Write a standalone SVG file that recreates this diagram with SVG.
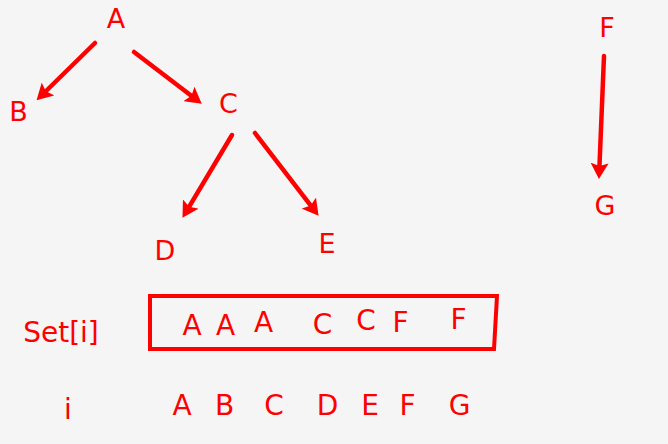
<svg xmlns="http://www.w3.org/2000/svg" width="668" height="444" viewBox="0 0 668 444">
<style>
.t{font-family:"DejaVu Sans","Liberation Sans",sans-serif;fill:#ff0000;text-anchor:middle}
.n{font-size:27px}
.r{font-size:28px}
.e{stroke:#ff0000;stroke-width:4.5;stroke-linecap:round;fill:none;marker-end:url(#ah)}
</style>
<defs>
<marker id="ah" markerUnits="userSpaceOnUse" viewBox="0 0 16 18" refX="7" refY="9" markerWidth="16" markerHeight="18" orient="auto">
<path d="M0,0 L16,9 L0,18 L3,9 z" fill="#ff0000"/>
</marker>
</defs>
<rect width="668" height="444" fill="#f5f5f5"/>
<g id="connectors">
<line class="e" x1="95" y1="43" x2="43" y2="94"/>
<line class="e" x1="134" y1="52" x2="194.6" y2="98.2"/>
<line class="e" x1="232" y1="135" x2="187.1" y2="210.1"/>
<line class="e" x1="255" y1="133" x2="313.1" y2="208.7"/>
<line class="e" x1="604" y1="56" x2="599.3" y2="170"/>
</g>
<g id="node-A"><text class="t n" x="116" y="28">A</text></g>
<g id="node-B"><text class="t n" x="18.5" y="121">B</text></g>
<g id="node-C"><text class="t n" x="228.5" y="113">C</text></g>
<g id="node-D"><text class="t n" x="165" y="260">D</text></g>
<g id="node-E"><text class="t n" x="327" y="253">E</text></g>
<g id="node-F"><text class="t n" x="607" y="37">F</text></g>
<g id="node-G"><text class="t n" x="605" y="215">G</text></g>
<g id="set-row">
<text class="t r" x="61" y="342">Set[i]</text>
<path d="M150,296 L497,296 L494,349 L150,349 Z" fill="none" stroke="#ff0000" stroke-width="4"/>
<text class="t r" x="192" y="335">A</text>
<text class="t r" x="225.5" y="335">A</text>
<text class="t r" x="263.5" y="332">A</text>
<text class="t r" x="322.5" y="334">C</text>
<text class="t r" x="366" y="330">C</text>
<text class="t r" x="400.5" y="332">F</text>
<text class="t r" x="458.5" y="329">F</text>
</g>
<g id="i-row">
<text class="t r" x="68" y="419">i</text>
<text class="t r" x="182" y="415">A</text>
<text class="t r" x="224.5" y="415">B</text>
<text class="t r" x="274" y="415">C</text>
<text class="t r" x="327.5" y="415">D</text>
<text class="t r" x="370" y="415">E</text>
<text class="t r" x="407.5" y="415">F</text>
<text class="t r" x="459.5" y="415">G</text>
</g>
</svg>
